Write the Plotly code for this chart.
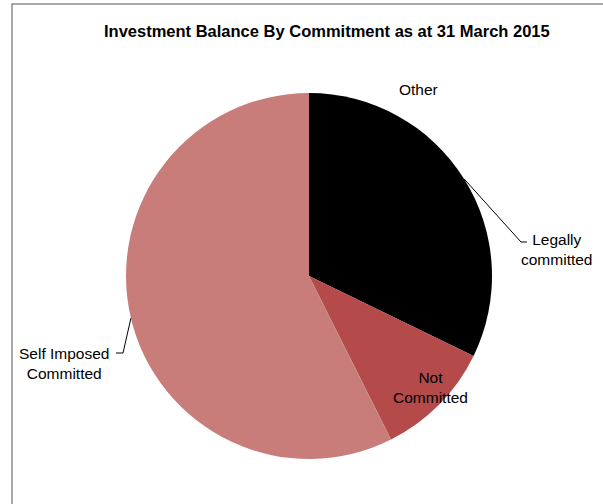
import math
import plotly.graph_objects as go

# ---- data ----
categories = ["Other", "Legally committed", "Not Committed", "Self Imposed Committed"]
values = [0.0, 32.2, 10.4, 57.4]
colors = ["#F2F2F2", "#000000", "#B44B4A", "#C97D7B"]
title_text = "Investment Balance By Commitment as at 31 March 2015"

W, H = 603, 504
CX, CY, R = 309, 276, 183  # pie centre / radius in pixels


def px(x):
    return x / W


def py(y):
    return 1 - y / H


fig = go.Figure(
    go.Pie(
        labels=categories,
        values=values,
        marker=dict(colors=colors, line=dict(width=0)),
        sort=False,
        direction="clockwise",
        rotation=0,
        textinfo="none",
        hoverinfo="label+percent",
        showlegend=False,
        domain=dict(x=[px(CX - R), px(CX + R)], y=[py(CY + R), py(CY - R)]),
    )
)

# anchors on the pie edge at slice mid-angles
total = sum(values)
cum = 0
mid = {}
for c, v in zip(categories, values):
    a = (cum + v / 2) / total * 2 * math.pi
    mid[c] = (CX + R * math.sin(a), CY - R * math.cos(a))
    cum += v

font = dict(family="Liberation Sans, Arial, sans-serif", size=15.5, color="#000000")
shapes = []
# chart frame (left and top edges visible)
shapes.append(dict(type="path", xref="paper", yref="paper",
                   path=f"M {px(12)},{py(H)} L {px(12)},{py(4)} L {px(W)},{py(4)}",
                   line=dict(color="#8C8C8C", width=1.5)))
# leader lines
lx, ly = mid["Legally committed"]
shapes.append(dict(type="path", xref="paper", yref="paper",
                   path=f"M {px(lx)},{py(ly)} L {px(521)},{py(242)} L {px(527)},{py(242)}",
                   line=dict(color="#000000", width=1)))
sx, sy = mid["Self Imposed Committed"]
shapes.append(dict(type="path", xref="paper", yref="paper",
                   path=f"M {px(sx)},{py(sy)} L {px(123)},{py(353)} L {px(116)},{py(353)}",
                   line=dict(color="#000000", width=1)))

annotations = [
    dict(text="Other", x=px(418), y=py(89)),
    dict(text="Legally<br>committed", x=px(557), y=py(249)),
    dict(text="Not<br>Committed", x=px(430), y=py(387)),
    dict(text="Self Imposed<br>Committed", x=px(64), y=py(363)),
]
for a in annotations:
    a.update(xref="paper", yref="paper", showarrow=False, font=font,
             xanchor="center", yanchor="middle", align="center")

annotations.append(dict(text=f"<b>{title_text}</b>", x=px(327), y=py(31),
                        xref="paper", yref="paper", showarrow=False,
                        xanchor="center", yanchor="middle",
                        font=dict(family="Liberation Sans, Arial, sans-serif", size=16.5, color="#000000")))

fig.update_layout(
    width=W, height=H,
    margin=dict(l=0, r=0, t=0, b=0),
    paper_bgcolor="#FFFFFF",
    plot_bgcolor="#FFFFFF",
    shapes=shapes,
    annotations=annotations,
)

fig.write_html("out.html", config={"displayModeBar": False},
               post_script="document.body.style.margin='0';document.body.style.overflow='hidden';")
